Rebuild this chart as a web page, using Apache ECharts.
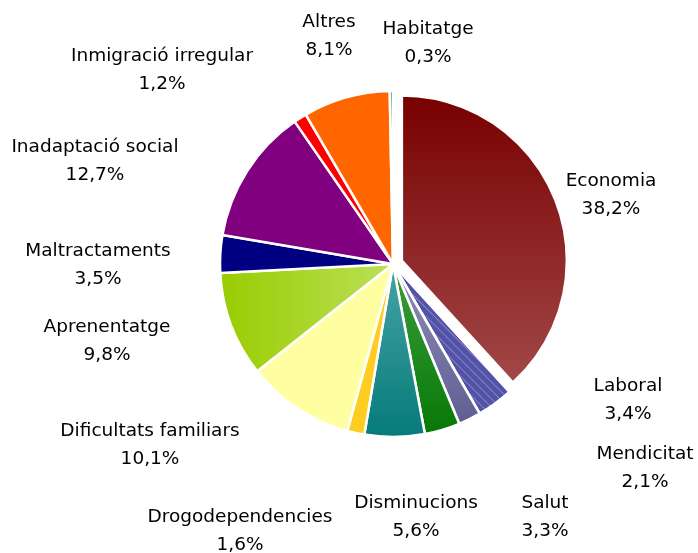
<!DOCTYPE html>
<html>
<head>
<meta charset="utf-8">
<script src="https://cdn.jsdelivr.net/npm/echarts@6/dist/echarts.min.js"></script>
<style>
  html, body { margin: 0; padding: 0; background: #fff; }
  #main { width: 698px; height: 553px; }
</style>
</head>
<body>
<div id="main"></div>
<script>
// dades del gràfic (percentatges)
const categories = ['Economia', 'Laboral', 'Mendicitat', 'Salut', 'Disminucions', 'Drogodependencies',
  'Dificultats familiars', 'Aprenentatge', 'Maltractaments', 'Inadaptació social',
  'Inmigració irregular', 'Altres', 'Habitatge']
const values = [38.2, 3.4, 2.1, 3.3, 5.6, 1.6, 10.1, 9.8, 3.5, 12.7, 1.2, 8.1, 0.3]

// posició de les etiquetes (centre del bloc de text)
const labelPos = [
  [611, 195], [628, 400], [645, 468], [545, 517], [416, 517], [240, 531],
  [150, 445], [107, 341], [98, 265], [95, 161], [162, 70], [329, 36], [428, 43]
]

const grad = (c1, c2, horiz) => new echarts.graphic.LinearGradient(0, 0, horiz ? 1 : 0, horiz ? 0 : 1, [
  { offset: 0, color: c1 },
  { offset: 1, color: c2 }
])

const colors = [
  grad('#780000', '#a24848'),
  '#5252a8',
  grad('#9090b8', '#5e5e92'),
  grad('#3e9e3e', '#067806'),
  grad('#48a4a4', '#067a7a'),
  '#ffcc22',
  '#ffffa2',
  grad('#99cc00', '#bce058', true),
  '#000080',
  '#800080',
  '#ff0000',
  '#ff6600',
  '#2e9a6a'
]

const exploded = 0 // Economia, separada i més petita

const base = {
  type: 'pie',
  center: [393, 264],
  startAngle: 90,
  clockwise: true,
  itemStyle: { borderColor: '#fff', borderWidth: 2.5 },
  labelLine: { show: false },
  emphasis: { disabled: true }
}

const myChart = echarts.init(document.getElementById('main'))
myChart.setOption({
  animation: false,
  series: [
    // totes les porcions menys Economia
    Object.assign({}, base, {
      radius: 173,
      label: {
        show: true,
        position: 'outside',
        alignTo: 'none',
        overflow: 'none',
        width: 300,
        formatter: p => p.name + '\n' + p.value.toFixed(1).replace('.', ',') + '%',
        fontFamily: 'DejaVu Sans',
        fontSize: 18.5,
        lineHeight: 28,
        color: '#000',
        align: 'center'
      },
      labelLayout: params => {
        const pos = labelPos[params.dataIndex]
        return { x: pos[0], y: pos[1], align: 'center', verticalAlign: 'middle' }
      },
      data: categories.map((name, i) => ({
        name: name,
        value: values[i],
        itemStyle: i === exploded
          ? { color: 'rgba(0,0,0,0)', borderWidth: 0 }
          : {
              color: colors[i],
              decal: i === 1
                ? { symbol: 'rect', color: 'rgba(255,255,255,0.28)', dashArrayX: [1, 0], dashArrayY: [1, 5], rotation: Math.PI / 4 }
                : null
            }
      }))
    }),
    // Economia separada
    Object.assign({}, base, {
      radius: 165,
      silent: true,
      selectedMode: 'single',
      selectedOffset: 9.5,
      label: { show: false },
      data: categories.map((name, i) => ({
        name: name,
        value: values[i],
        selected: i === exploded,
        itemStyle: i === exploded
          ? { color: colors[i] }
          : { color: 'rgba(0,0,0,0)', borderWidth: 0 }
      }))
    })
  ]
})
</script>
</body>
</html>
